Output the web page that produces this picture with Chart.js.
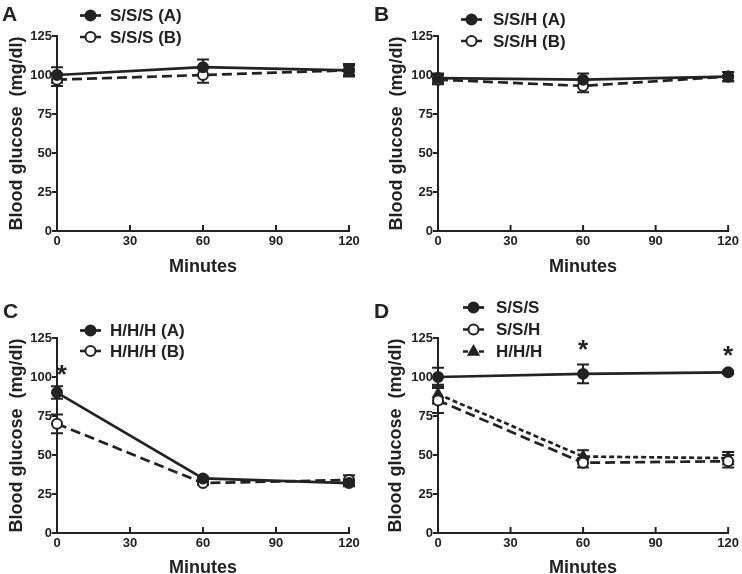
<!DOCTYPE html>
<html>
<head>
<meta charset="utf-8">
<script src="https://cdn.jsdelivr.net/npm/chart.js@4.4.1/dist/chart.umd.min.js"></script>
<style>
  html, body { margin: 0; padding: 0; background: #fff; }
  #wrap { position: relative; width: 742px; height: 574px; overflow: hidden; }
  .panel { position: absolute; width: 371px; height: 287px; }
</style>
</head>
<body>
<div id="wrap">
  <div class="panel" style="left:0;top:0"><canvas id="chartA" width="371" height="287"></canvas></div>
  <div class="panel" style="left:371px;top:0"><canvas id="chartB" width="371" height="287"></canvas></div>
  <div class="panel" style="left:0;top:287px"><canvas id="chartC" width="371" height="287"></canvas></div>
  <div class="panel" style="left:371px;top:287px"><canvas id="chartD" width="371" height="287"></canvas></div>
</div>
<script>
// time points and axis ticks
var minutes = [0, 60, 120];
var xTicks = [0, 30, 60, 90, 120];
var yTicks = [0, 25, 50, 75, 100, 125];

// panel A
var sssA = [100, 105, 103];
var sssAErr = [5, 5, 4];
var sssB = [97, 100, 103];
var sssBErr = [4, 5, 3];

// panel B
var sshA = [98, 97, 99];
var sshAErr = [3, 4, 3];
var sshB = [97, 93, 99];
var sshBErr = [3, 4, 3];

// panel C
var hhhA = [90, 35, 32];
var hhhAErr = [4, 1, 2];
var hhhB = [70, 32, 34];
var hhhBErr = [6, 1, 3];
var starsC = [{ x: 2, y: 106 }];

// panel D
var sss = [100, 102, 103];
var sssErr = [6, 6, 1];
var ssh = [85, 45, 46];
var sshErr = [8, 3, 4];
var hhh = [89, 49, 48];
var hhhErr = [6, 4, 4];
var starsD = [{ x: 60, y: 122 }, { x: 120, y: 118 }];

var INK = "#222";
var FONT = "'Liberation Sans', Arial, Helvetica, sans-serif";

function points(values) {
  return minutes.map(function (m, i) { return { x: m, y: values[i] }; });
}

function series(label, values, errors, kind) {
  var ds = {
    label: label,
    data: points(values),
    errors: errors,
    borderColor: INK,
    borderWidth: 2.7,
    pointRadius: 5,
    pointBorderColor: INK,
    pointBorderWidth: 2,
    pointBackgroundColor: INK,
    pointStyle: "circle",
    tension: 0,
    clip: false,
  };
  if (kind === "open") {
    ds.borderDash = [10, 5];
    ds.pointBackgroundColor = "#fff";
  }
  if (kind === "tri") {
    ds.borderDash = [5, 3];
    ds.pointStyle = "triangle";
    ds.pointRadius = 5.5;
  }
  return ds;
}

function drawMarker(ctx, ds, x, y) {
  ctx.save();
  ctx.setLineDash([]);
  ctx.lineWidth = ds.pointBorderWidth;
  ctx.strokeStyle = ds.pointBorderColor;
  ctx.fillStyle = ds.pointBackgroundColor;
  ctx.beginPath();
  if (ds.pointStyle === "triangle") {
    var r = ds.pointRadius;
    ctx.moveTo(x, y - r);
    ctx.lineTo(x + r * 0.9, y + r * 0.6);
    ctx.lineTo(x - r * 0.9, y + r * 0.6);
    ctx.closePath();
  } else {
    ctx.arc(x, y, ds.pointRadius, 0, Math.PI * 2);
  }
  ctx.fill();
  ctx.stroke();
  ctx.restore();
}

var decorPlugin = {
  id: "decor",
  beforeDatasetsDraw: function (chart) {
    // error bars
    var ctx = chart.ctx;
    var xs = chart.scales.x, ys = chart.scales.y;
    ctx.save();
    ctx.strokeStyle = INK;
    ctx.lineWidth = 2;
    chart.data.datasets.forEach(function (ds) {
      ds.data.forEach(function (p, i) {
        var e = ds.errors[i];
        var x = xs.getPixelForValue(p.x);
        var y1 = ys.getPixelForValue(p.y + e);
        var y2 = ys.getPixelForValue(p.y - e);
        ctx.beginPath();
        ctx.moveTo(x, y1); ctx.lineTo(x, y2);
        ctx.moveTo(x - 6, y1); ctx.lineTo(x + 6, y1);
        ctx.moveTo(x - 6, y2); ctx.lineTo(x + 6, y2);
        ctx.stroke();
      });
    });
    ctx.restore();
  },
  afterDraw: function (chart, args, opts) {
    var ctx = chart.ctx;
    var xs = chart.scales.x, ys = chart.scales.y;
    var bottom = chart.chartArea.bottom;
    ctx.save();
    // inward x tick marks
    ctx.strokeStyle = INK;
    ctx.lineWidth = 2;
    xs.ticks.forEach(function (t) {
      var x = xs.getPixelForValue(t.value);
      ctx.beginPath();
      ctx.moveTo(x, bottom);
      ctx.lineTo(x, bottom - 6);
      ctx.stroke();
    });
    // significance stars
    ctx.fillStyle = INK;
    ctx.font = "bold 26px " + FONT;
    ctx.textAlign = "center";
    ctx.textBaseline = "alphabetic";
    (opts.stars || []).forEach(function (s) {
      ctx.fillText("*", xs.getPixelForValue(s.x), ys.getPixelForValue(s.y) + 15);
    });
    // panel letter
    ctx.font = "bold 21px " + FONT;
    ctx.textAlign = "left";
    ctx.textBaseline = "middle";
    ctx.fillText(opts.letter.text, opts.letter.x, opts.letter.y);
    // legend
    var lg = opts.legend;
    ctx.font = "bold 17px " + FONT;
    chart.data.datasets.forEach(function (ds, i) {
      var y = lg.rows[i];
      ctx.save();
      ctx.strokeStyle = INK;
      ctx.lineWidth = 2.7;
      ctx.setLineDash(ds.borderDash || []);
      ctx.beginPath();
      ctx.moveTo(lg.x, y);
      ctx.lineTo(lg.x + 21, y);
      ctx.stroke();
      ctx.restore();
      drawMarker(ctx, ds, lg.x + 10.5, y);
      ctx.fillStyle = INK;
      ctx.fillText(ds.label, lg.textX, y + 1);
    });
    ctx.restore();
  },
};

function makePanel(id, datasets, p) {
  var canvas = document.getElementById(id);
  return new Chart(canvas.getContext("2d"), {
    type: "line",
    data: { datasets: datasets },
    plugins: [decorPlugin],
    options: {
      responsive: false,
      animation: false,
      devicePixelRatio: 1,
      layout: { padding: { top: p.top, right: p.right, left: 0, bottom: 0 } },
      plugins: {
        legend: { display: false },
        tooltip: { enabled: false },
        decor: { letter: p.letter, legend: p.legend, stars: p.stars },
      },
      scales: {
        x: {
          type: "linear",
          min: 0,
          max: 120,
          afterBuildTicks: function (s) { s.ticks = xTicks.map(function (v) { return { value: v }; }); },
          afterFit: function (s) { s.height = p.xHeight; },
          grid: { display: false, drawTicks: false },
          border: { display: true, color: INK, width: 2 },
          ticks: { color: INK, padding: 3, font: { family: FONT, size: 13, weight: "bold" } },
          title: {
            display: true,
            text: "Minutes",
            color: INK,
            font: { family: FONT, size: 18, weight: "bold" },
            padding: { top: 0, bottom: p.xTitlePad },
          },
        },
        y: {
          min: 0,
          max: 125,
          afterBuildTicks: function (s) { s.ticks = yTicks.map(function (v) { return { value: v }; }); },
          afterFit: function (s) { s.width = p.yWidth; },
          grid: { drawOnChartArea: false, drawTicks: true, tickLength: 5, color: INK, lineWidth: 2 },
          border: { display: true, color: INK, width: 2 },
          ticks: { color: INK, padding: 0, font: { family: FONT, size: 13, weight: "bold" } },
          title: {
            display: true,
            text: "Blood glucose  (mg/dl)",
            color: INK,
            font: { family: FONT, size: 18, weight: "bold" },
            padding: { top: p.yTitlePad, bottom: 0 },
          },
        },
      },
    },
  });
}

document.addEventListener("DOMContentLoaded", function () {
  makePanel("chartA", [
    series("S/S/S (A)", sssA, sssAErr, "filled"),
    series("S/S/S (B)", sssB, sssBErr, "open"),
  ], {
    top: 36, right: 22, yWidth: 57, xHeight: 56, xTitlePad: 9, yTitlePad: 6,
    letter: { text: "A", x: 2, y: 15 },
    legend: { x: 80, textX: 110, rows: [15.5, 37] },
    stars: [],
  });

  makePanel("chartB", [
    series("S/S/H (A)", sshA, sshAErr, "filled"),
    series("S/S/H (B)", sshB, sshBErr, "open"),
  ], {
    top: 36, right: 11, yWidth: 67, xHeight: 56, xTitlePad: 9, yTitlePad: 15,
    letter: { text: "B", x: 3, y: 15 },
    legend: { x: 90, textX: 122, rows: [19.5, 41] },
    stars: [],
  });

  makePanel("chartC", [
    series("H/H/H (A)", hhhA, hhhAErr, "filled"),
    series("H/H/H (B)", hhhB, hhhBErr, "open"),
  ], {
    top: 51, right: 22, yWidth: 57, xHeight: 41, xTitlePad: -5, yTitlePad: 6,
    letter: { text: "C", x: 3, y: 25.5 },
    legend: { x: 80, textX: 110, rows: [43.5, 64] },
    stars: starsC,
  });

  makePanel("chartD", [
    series("S/S/S", sss, sssErr, "filled"),
    series("S/S/H", ssh, sshErr, "open"),
    series("H/H/H", hhh, hhhErr, "tri"),
  ], {
    top: 51, right: 11, yWidth: 67, xHeight: 41, xTitlePad: -5, yTitlePad: 14,
    letter: { text: "D", x: 3, y: 25.5 },
    legend: { x: 92, textX: 125, rows: [20.5, 42.5, 64.5] },
    stars: starsD,
  });
});
</script>
</body>
</html>
